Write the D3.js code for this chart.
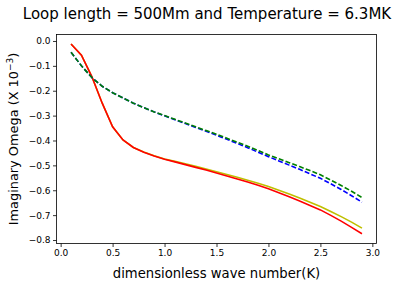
<!DOCTYPE html>
<html><head><meta charset="utf-8">
<script src="https://cdn.jsdelivr.net/npm/d3@7"></script>
<style>
html,body{margin:0;padding:0;background:#fff;}
text{font-family:"DejaVu Sans",sans-serif;fill:#000;}
</style></head>
<body><svg id="c" width="409" height="283"></svg>
<script>
const kValues = [0.1,0.2,0.3,0.4,0.5,0.6,0.7,0.8,0.9,1.0,1.1,1.2,1.3,1.4,1.5,1.6,1.7,1.8,1.9,2.0,2.1,2.2,2.3,2.4,2.5,2.6,2.7,2.8,2.9];
const redSeries = [-0.012,-0.057,-0.143,-0.250,-0.345,-0.398,-0.428,-0.447,-0.462,-0.475,-0.486,-0.497,-0.508,-0.519,-0.531,-0.543,-0.555,-0.567,-0.580,-0.594,-0.610,-0.626,-0.643,-0.661,-0.679,-0.701,-0.724,-0.749,-0.775];
const yellowSeries = [-0.012,-0.057,-0.143,-0.250,-0.345,-0.398,-0.428,-0.446,-0.461,-0.474,-0.484,-0.494,-0.504,-0.515,-0.526,-0.537,-0.548,-0.560,-0.572,-0.585,-0.600,-0.615,-0.631,-0.648,-0.665,-0.685,-0.706,-0.728,-0.752];
const blueSeries = [-0.045,-0.100,-0.147,-0.182,-0.208,-0.229,-0.250,-0.268,-0.285,-0.301,-0.317,-0.332,-0.348,-0.363,-0.379,-0.395,-0.412,-0.429,-0.447,-0.465,-0.482,-0.499,-0.516,-0.534,-0.552,-0.574,-0.597,-0.622,-0.648];
const greenSeries = [-0.045,-0.100,-0.147,-0.182,-0.208,-0.229,-0.250,-0.268,-0.285,-0.300,-0.315,-0.330,-0.345,-0.360,-0.375,-0.391,-0.407,-0.423,-0.440,-0.458,-0.473,-0.489,-0.505,-0.521,-0.538,-0.559,-0.581,-0.604,-0.629];
const xTicks = [0.0,0.5,1.0,1.5,2.0,2.5,3.0];
const yTicks = [0.0,-0.1,-0.2,-0.3,-0.4,-0.5,-0.6,-0.7,-0.8];
const titleText = "Loop length = 500Mm and Temperature = 6.3MK";
const xLabel = "dimensionless wave number(K)";

const svg = d3.select("#c");
const L = 56.5, R = 376.5, T = 34.5, B = 243.5;
const x = d3.scaleLinear().domain([-0.04, 3.04]).range([L, R]);
const y = d3.scaleLinear().domain([-0.814, 0.026]).range([B, T]);

const fmt = v => (v < 0 ? "\u2212" : "") + Math.abs(v).toFixed(1);

const xAxis = d3.axisBottom(x).tickValues(xTicks).tickFormat(fmt).tickSize(3.5).tickPadding(2.5);
const gx = svg.append("g").attr("transform", `translate(0,${B})`).call(xAxis);
const yAxis = d3.axisLeft(y).tickValues(yTicks).tickFormat(fmt).tickSize(3.5).tickPadding(2.5);
const gy = svg.append("g").attr("transform", `translate(${L},0)`).call(yAxis);
[gx, gy].forEach(g => {
  g.select(".domain").remove();
  g.selectAll(".tick line").attr("stroke", "#000").attr("stroke-width", 0.8);
  g.selectAll(".tick text").style("font-family", "DejaVu Sans").style("font-size", "9px").attr("fill", "#000");
});

const line = d3.line().x((d, i) => x(kValues[i])).y(d => y(d));
const series = [
  {data: yellowSeries, color: "#bfbf00", dash: null},
  {data: redSeries, color: "#ff0000", dash: null},
  {data: blueSeries, color: "#0000ff", dash: "5,2.2"},
  {data: greenSeries, color: "#008000", dash: "5,2.2"}
];
svg.append("clipPath").attr("id", "clp").append("rect")
  .attr("x", L).attr("y", T).attr("width", R - L).attr("height", B - T);
series.forEach(s => {
  svg.append("path").datum(s.data).attr("d", line)
    .attr("fill", "none").attr("stroke", s.color).attr("stroke-width", 1.6)
    .attr("stroke-dasharray", s.dash).attr("clip-path", "url(#clp)");
});

svg.append("rect").attr("x", L).attr("y", T).attr("width", R - L).attr("height", B - T)
  .attr("fill", "none").attr("stroke", "#000").attr("stroke-width", 0.8);

svg.append("text").attr("x", 207).attr("y", 19).attr("text-anchor", "middle")
  .style("font-size", "15px").text(titleText);
svg.append("text").attr("x", (L + R) / 2).attr("y", 278).attr("text-anchor", "middle")
  .style("font-size", "13.2px").text(xLabel);
const yl = svg.append("text").attr("transform", `translate(18,${(T + B) / 2}) rotate(-90)`)
  .attr("text-anchor", "middle").style("font-size", "12.9px");
yl.append("tspan").text("Imaginary Omega (X 10");
yl.append("tspan").attr("dy", -5.5).style("font-size", "9px").text("\u22123");
yl.append("tspan").attr("dy", 5.5).text(")");
</script>
</body></html>
